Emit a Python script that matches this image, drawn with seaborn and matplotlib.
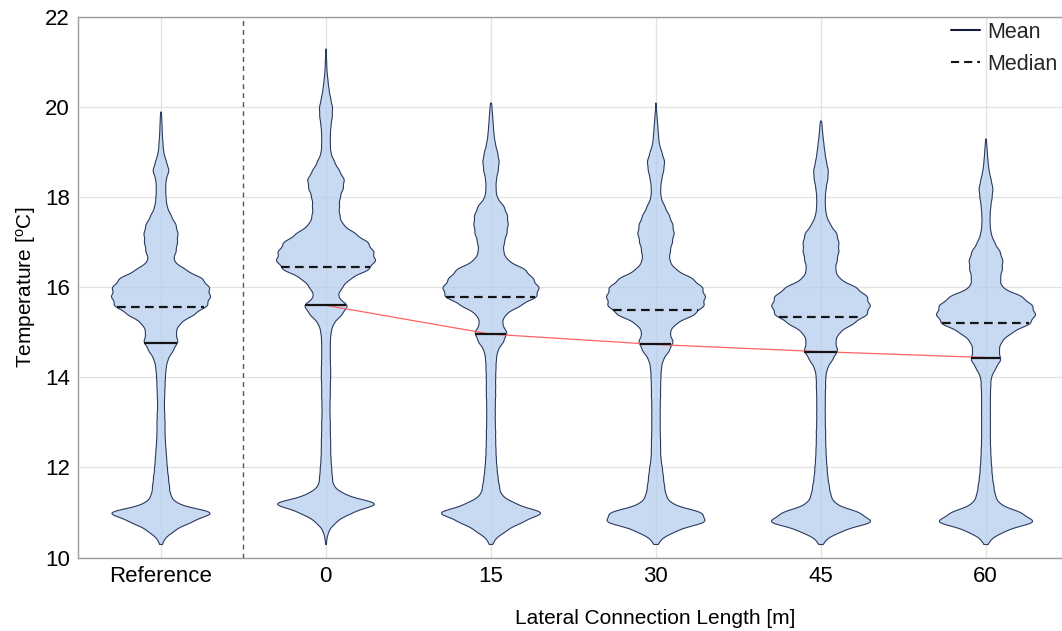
import numpy as np
import pandas as pd
import matplotlib
matplotlib.use("Agg")
import matplotlib.pyplot as plt
from matplotlib.lines import Line2D
import matplotlib.colors as mcolors
import seaborn as sns

# ---------------- data ----------------
GROUPS = ["Reference", "0", "15", "30", "45", "60"]

# temperature levels (histogram bin centres, degC)
TEMP_LEVELS = [10.2, 10.4, 10.6, 10.8, 11.0, 11.2, 11.4, 11.6, 11.8, 12.0,
               12.2, 12.4, 12.6, 12.8, 13.0, 13.2, 13.4, 13.6, 13.8, 14.0,
               14.2, 14.4, 14.6, 14.8, 15.0, 15.2, 15.4, 15.6, 15.8, 16.0,
               16.2, 16.4, 16.6, 16.8, 17.0, 17.2, 17.4, 17.6, 17.8, 18.0,
               18.2, 18.4, 18.6, 18.8, 19.0, 19.2, 19.4, 19.6, 19.8, 20.0,
               20.2, 20.4, 20.6, 20.8, 21.0, 21.2, 21.4]

# relative frequencies per level for each case
COUNTS_REF = [0, 8, 38, 90, 165, 45, 28, 25, 22, 19,
              17, 15, 13, 12, 12, 11, 10, 11, 12, 13,
              15, 20, 36, 52, 44, 55, 98, 140, 147, 145,
              125, 72, 36, 45, 49, 51, 45, 30, 18, 15,
              14, 15, 25, 16, 8, 6, 4, 3, 2, 0,
              0, 0, 0, 0, 0, 0, 0]
COUNTS_0 = [0, 2, 8, 30, 75, 165, 55, 22, 19, 17,
            15, 14, 14, 13, 13, 12, 12, 13, 13, 14,
            14, 13, 13, 13, 15, 22, 48, 68, 34, 48,
            72, 130, 150, 143, 128, 88, 50, 41, 40, 42,
            52, 56, 40, 25, 14, 13, 13, 15, 19, 20,
            14, 9, 6, 3, 2, 1, 0]
COUNTS_15 = [0, 10, 45, 95, 165, 72, 30, 25, 21, 18,
             16, 15, 14, 14, 13, 13, 13, 14, 14, 14,
             15, 16, 20, 38, 50, 33, 42, 88, 140, 146,
             127, 105, 50, 37, 40, 48, 52, 50, 40, 18,
             15, 16, 22, 25, 20, 13, 9, 7, 5, 3,
             0, 0, 0, 0, 0, 0, 0]
COUNTS_30 = [0, 12, 55, 145, 135, 42, 28, 24, 21, 18,
             14, 13, 13, 12, 12, 12, 12, 13, 13, 14,
             15, 20, 38, 50, 38, 55, 110, 137, 140, 133,
             105, 55, 38, 40, 46, 52, 48, 38, 25, 14,
             13, 16, 22, 25, 17, 9, 7, 5, 3, 1,
             0, 0, 0, 0, 0, 0, 0]
COUNTS_45 = [0, 12, 58, 150, 110, 38, 27, 23, 19, 17,
             15, 14, 13, 13, 12, 12, 12, 12, 13, 13,
             17, 32, 48, 40, 50, 90, 130, 138, 130, 100,
             50, 40, 45, 50, 50, 45, 26, 15, 12, 12,
             14, 19, 21, 15, 11, 8, 5, 3, 0, 0,
             0, 0, 0, 0, 0, 0, 0]
COUNTS_60 = [0, 12, 55, 150, 105, 38, 27, 23, 19, 17,
             15, 14, 13, 13, 13, 13, 13, 13, 14, 15,
             28, 45, 38, 45, 75, 132, 147, 138, 108, 46,
             42, 48, 50, 42, 25, 15, 12, 12, 14, 18,
             21, 15, 9, 6, 4, 2, 0, 0, 0, 0,
             0, 0, 0, 0, 0, 0, 0]
COUNTS = [COUNTS_REF, COUNTS_0, COUNTS_15, COUNTS_30, COUNTS_45, COUNTS_60]

MEANS = [14.76, 15.60, 14.96, 14.73, 14.57, 14.44]
MEDIANS = [15.56, 16.46, 15.79, 15.50, 15.33, 15.20]

Y_TICKS = [10, 12, 14, 16, 18, 20, 22]

# ---------------- build long table ----------------
frames = []
for g, c in zip(GROUPS, COUNTS):
    frames.append(pd.DataFrame({"group": g, "temp": np.repeat(TEMP_LEVELS, c)}))
df = pd.concat(frames, ignore_index=True)

# ---------------- style ----------------
sns.set_theme(style="whitegrid")
plt.rcParams["font.family"] = ["Liberation Sans", "DejaVu Sans"]
plt.rcParams["mathtext.default"] = "regular"

W, H = 1062, 631
fig = plt.figure(figsize=(W / 100, H / 100), dpi=100)
ax = fig.add_axes([78 / W, 73.5 / H, 990 / W, 540.5 / H])

KDE_SIGMA = 0.1
sns.violinplot(
    data=df, x="group", y="temp", order=GROUPS, ax=ax,
    color="#b3ccee", saturation=1, linecolor="#2b3a60", linewidth=0.8,
    inner=None, density_norm="width", width=0.6, cut=1, gridsize=1200,
    bw_method=lambda k: KDE_SIGMA / np.std(k.dataset),
)
violins = list(ax.collections)
fc = mcolors.to_rgb("#b3ccee")
for coll in violins:
    coll.set_facecolor((*fc, 0.72))
    coll.set_zorder(2)


def extent_at(coll, y0):
    v = coll.get_paths()[0].vertices
    cx = 0.5 * (v[:, 0].min() + v[:, 0].max())
    left = v[v[:, 0] <= cx]
    right = v[v[:, 0] >= cx]
    left = left[np.argsort(left[:, 1])]
    right = right[np.argsort(right[:, 1])]
    return np.interp(y0, left[:, 1], left[:, 0]), np.interp(y0, right[:, 1], right[:, 0])


# red line linking the means of the lateral-connection cases
sns.lineplot(x=GROUPS[1:], y=MEANS[1:], ax=ax, color="#ff6262", lw=0.9,
             sort=False, zorder=3, legend=False)

for coll, mu, md in zip(violins, MEANS, MEDIANS):
    x0, x1 = extent_at(coll, mu)
    ax.plot([x0, x1], [mu, mu], color="#141414", lw=1.6,
            solid_capstyle="butt", zorder=4)
    x0, x1 = extent_at(coll, md)
    ax.plot([x0, x1], [md, md], color="#141414", lw=1.6,
            ls=(0, (3.9, 2.4)), dash_capstyle="butt", zorder=4)

ax.axvline(0.5, color="#555555", lw=1.0, ls=(0, (3.5, 3)), zorder=3)

ax.set_ylim(10, 22)
ax.set_yticks(Y_TICKS)
ax.set_xlim(-0.5, 5.5)
ax.grid(True, color="#e2e2e2", lw=0.9)
ax.set_axisbelow(True)
for s in ["left", "bottom", "top"]:
    ax.spines[s].set_color("#9c9c9c")
    ax.spines[s].set_linewidth(1.0)
ax.spines["right"].set_visible(False)
ax.tick_params(length=0, labelsize=16, colors="black", pad=6)

ax.set_ylabel("Temperature [$^{o}$C]", fontsize=15, color="black")
ax.yaxis.set_label_coords(-0.04, 0.5)
ax.set_xlabel("Lateral Connection Length [m]", fontsize=15, color="black")
ax.xaxis.set_label_coords(3.5 / 6.0, -0.095)

handles = [Line2D([], [], color="#141b3c", lw=1.5),
           Line2D([], [], color="#141414", lw=1.5, ls=(0, (3.9, 2.4)))]
ax.legend(handles, ["Mean", "Median"], loc="upper left",
          bbox_to_anchor=((951 - 78) / 990, (557.5 - 22) / 540.5),
          frameon=False, fontsize=15.5, borderpad=0, borderaxespad=0,
          handlelength=1.35, handletextpad=0.35, labelspacing=0.5)

fig.savefig("out.png", dpi=100)
